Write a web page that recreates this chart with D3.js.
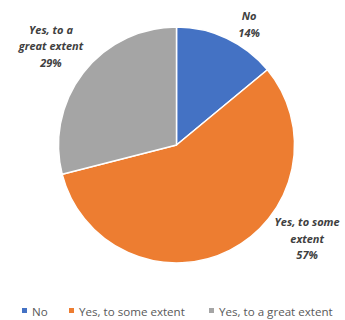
<!DOCTYPE html>
<html>
<head>
<meta charset="utf-8">
<script src="https://cdn.jsdelivr.net/npm/d3@7/dist/d3.min.js"></script>
<style>
  html, body { margin: 0; padding: 0; background: #fff; }
  svg { display: block; }
</style>
</head>
<body>
<svg id="chart" width="345" height="320"></svg>
<script>
// Survey answers and their shares (percent)
const categories = ["No", "Yes, to some extent", "Yes, to a great extent"];
const values = [14, 57, 29];
const colors = ["#4472C4", "#ED7D31", "#A5A5A5"];
// Label lines drawn outside each slice
const labelLines = [["No", "14%"], ["Yes, to some", "extent", "57%"], ["Yes, to a", "great extent", "29%"]];

const svg = d3.select("#chart");
const cx = 176.5, cy = 145, r = 118;
const font = "'Open Sans', 'Liberation Sans', sans-serif";

const pie = d3.pie().sort(null).value(d => d)(values);
const arc = d3.arc().innerRadius(0).outerRadius(r);

const g = svg.append("g").attr("transform", `translate(${cx},${cy})`);
g.selectAll("path")
  .data(pie)
  .join("path")
  .attr("d", arc)
  .attr("fill", (d, i) => colors[i])
  .attr("stroke", "#fff")
  .attr("stroke-width", 1.5)
  .attr("stroke-linejoin", "round");

// Data labels: placed along each slice's mid-angle beyond the rim, then nudged
const labelRadius = [140, 160, 150];
const labelShift = [[13, 6], [58, -49], [-7, -7]];
pie.forEach((d, i) => {
  const a = (d.startAngle + d.endAngle) / 2;
  const x = Math.sin(a) * labelRadius[i] + labelShift[i][0];
  const y = -Math.cos(a) * labelRadius[i] + labelShift[i][1];
  const lines = labelLines[i];
  const lh = 16.5;
  const t = g.append("text")
    .attr("text-anchor", "middle")
    .attr("font-family", font)
    .attr("font-size", 11)
    .attr("font-weight", "bold")
    .attr("font-style", "italic")
    .attr("fill", "#404040");
  lines.forEach((ln, k) => {
    t.append("tspan")
      .attr("x", x)
      .attr("y", y + (k - (lines.length - 1) / 2) * lh + 4)
      .text(ln);
  });
});

// Legend along the bottom
const legend = svg.append("g").attr("transform", "translate(0,312)");
const legendX = [22, 69, 209];
categories.forEach((c, i) => {
  const item = legend.append("g").attr("transform", `translate(${legendX[i]},0)`);
  item.append("rect")
    .attr("x", 0).attr("y", -4)
    .attr("width", 5).attr("height", 5)
    .attr("fill", colors[i]);
  item.append("text")
    .attr("x", 10).attr("y", 4)
    .attr("font-family", font)
    .attr("font-size", 11.6)
    .attr("fill", "#595959")
    .text(c);
});
</script>
</body>
</html>
